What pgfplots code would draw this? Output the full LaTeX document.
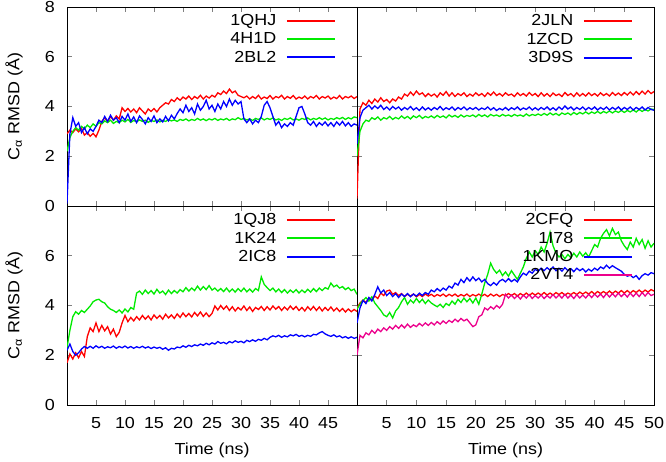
\documentclass[border=0pt]{standalone}
\usepackage{fontspec}
\setmainfont{Liberation Sans}[FakeStretch=1.12]
\usepackage{pgfplots}
\usepackage{pgfplotstable}
\pgfplotsset{compat=1.18}
\newcommand{\fs}{\fontsize{16bp}{18bp}\selectfont}
\definecolor{gr}{RGB}{0,235,0}

\pgfplotstableread{
t r g b
0 2.90 2.20 0.10
0.5 3.05 2.75 2.90
1.0 2.95 3.00 3.55
1.5 3.10 3.15 3.20
2.0 2.98 3.05 3.35
2.5 3.12 3.20 2.95
3.0 2.85 3.10 3.15
3.5 2.95 3.25 2.90
4.0 2.80 3.15 3.10
4.5 2.92 3.30 3.00
5.0 2.78 3.20 3.20
5.5 3.05 3.35 3.45
6.0 3.40 3.30 3.35
6.5 3.55 3.42 3.60
7.0 3.38 3.35 3.40
7.5 3.60 3.45 3.65
8.0 3.45 3.32 3.45
8.5 3.62 3.40 3.55
9.0 3.50 3.35 3.35
9.5 3.95 3.45 3.60
10.0 3.80 3.38 3.45
10.5 3.92 3.48 3.70
11.0 3.78 3.36 3.40
11.5 3.90 3.44 3.58
12.0 3.75 3.38 3.35
12.5 3.95 3.46 3.62
13.0 3.82 3.40 3.48
13.5 3.70 3.45 3.30
14.0 3.90 3.36 3.55
14.5 3.80 3.44 3.40
15.0 3.92 3.40 3.62
15.5 3.78 3.46 3.35
16.0 3.95 3.38 3.50
16.5 4.05 3.44 3.38
17.0 4.15 3.40 3.60
17.5 4.10 3.47 3.42
18.0 4.28 3.42 3.65
18.5 4.20 3.46 3.50
19.0 4.35 3.40 3.72
19.5 4.25 3.48 3.90
20.0 4.38 3.44 3.75
20.5 4.30 3.50 4.05
21.0 4.42 3.42 3.80
21.5 4.28 3.48 3.95
22.0 4.40 3.44 3.70
22.5 4.32 3.52 4.10
23.0 4.45 3.45 3.85
23.5 4.30 3.50 4.00
24.0 4.42 3.43 4.25
24.5 4.34 3.50 3.90
25.0 4.45 3.46 4.05
25.5 4.38 3.52 3.80
26.0 4.55 3.44 4.10
26.5 4.48 3.50 3.90
27.0 4.62 3.46 4.20
27.5 4.52 3.52 4.00
28.0 4.70 3.44 4.30
28.5 4.55 3.50 4.05
29.0 4.62 3.47 4.25
29.5 4.45 3.55 4.10
30.0 4.40 3.48 4.20
30.5 4.35 3.52 3.50
31.0 4.42 3.46 3.35
31.5 4.30 3.50 3.50
32.0 4.40 3.44 3.30
32.5 4.32 3.52 3.45
33.0 4.45 3.48 3.35
33.5 4.30 3.54 3.60
34.0 4.38 3.46 4.05
34.5 4.32 3.52 4.20
35.0 4.44 3.48 3.95
35.5 4.30 3.54 3.60
36.0 4.40 3.46 3.25
36.5 4.35 3.50 3.40
37.0 4.45 3.44 3.15
37.5 4.30 3.52 3.30
38.0 4.40 3.48 3.20
38.5 4.33 3.54 3.35
39.0 4.44 3.46 3.25
39.5 4.30 3.50 3.60
40.0 4.38 3.45 3.95
40.5 4.32 3.52 4.00
41.0 4.42 3.48 3.70
41.5 4.30 3.54 3.35
42.0 4.40 3.46 3.25
42.5 4.34 3.52 3.40
43.0 4.44 3.48 3.20
43.5 4.30 3.55 3.35
44.0 4.40 3.48 3.25
44.5 4.34 3.54 3.38
45.0 4.42 3.46 3.22
45.5 4.30 3.52 3.35
46.0 4.38 3.48 3.20
46.5 4.32 3.55 3.38
47.0 4.44 3.50 3.25
47.5 4.30 3.56 3.40
48.0 4.40 3.48 3.22
48.5 4.35 3.55 3.35
49.0 4.42 3.50 3.20
49.5 4.32 3.58 3.30
50.0 4.40 3.55 3.25
}\tabTL

\pgfplotstableread{
t r g b
0 0.30 2.00 2.50
0.5 3.90 3.00 3.55
1.0 4.15 3.30 3.85
1.5 4.05 3.45 3.95
2.0 4.25 3.40 4.05
2.5 4.12 3.55 3.90
3.0 4.30 3.48 4.02
3.5 4.18 3.58 3.92
4.0 4.35 3.45 4.05
4.5 4.20 3.55 3.88
5.0 4.28 3.50 3.98
5.5 4.15 3.60 3.86
6.0 4.30 3.48 4.00
6.5 4.22 3.56 3.90
7.0 4.38 3.50 3.98
7.5 4.30 3.62 3.85
8.0 4.50 3.52 3.96
8.5 4.42 3.60 3.88
9.0 4.58 3.50 4.00
9.5 4.45 3.62 3.86
10.0 4.62 3.55 3.95
10.5 4.48 3.64 3.84
11.0 4.55 3.52 3.98
11.5 4.40 3.60 3.86
12.0 4.52 3.55 3.95
12.5 4.42 3.62 3.85
13.0 4.50 3.54 3.96
13.5 4.38 3.64 3.88
14.0 4.55 3.56 4.00
14.5 4.45 3.62 3.86
15.0 4.60 3.54 3.95
15.5 4.42 3.66 3.88
16.0 4.55 3.58 3.98
16.5 4.40 3.64 3.85
17.0 4.52 3.56 3.96
17.5 4.44 3.66 3.88
18.0 4.55 3.58 3.98
18.5 4.40 3.64 3.86
19.0 4.50 3.60 3.95
19.5 4.42 3.66 3.88
20.0 4.55 3.58 3.96
20.5 4.44 3.68 3.86
21.0 4.52 3.60 3.94
21.5 4.40 3.66 3.88
22.0 4.55 3.58 3.98
22.5 4.45 3.68 3.86
23.0 4.58 3.62 3.95
23.5 4.44 3.66 3.84
24.0 4.52 3.60 3.92
24.5 4.42 3.68 3.86
25.0 4.55 3.62 3.96
25.5 4.45 3.66 3.85
26.0 4.50 3.60 3.95
26.5 4.40 3.68 3.88
27.0 4.55 3.62 3.98
27.5 4.44 3.66 3.86
28.0 4.52 3.60 3.94
28.5 4.42 3.70 3.88
29.0 4.56 3.62 3.98
29.5 4.44 3.68 3.86
30.0 4.52 3.64 3.95
30.5 4.40 3.70 3.86
31.0 4.55 3.64 3.96
31.5 4.42 3.72 3.88
32.0 4.52 3.65 3.98
32.5 4.40 3.74 3.86
33.0 4.54 3.66 3.95
33.5 4.44 3.72 3.85
34.0 4.50 3.64 3.98
34.5 4.40 3.74 3.88
35.0 4.56 3.68 4.02
35.5 4.44 3.74 3.90
36.0 4.52 3.66 3.98
36.5 4.40 3.76 3.86
37.0 4.55 3.68 3.96
37.5 4.42 3.76 3.88
38.0 4.52 3.70 3.98
38.5 4.42 3.78 3.86
39.0 4.55 3.70 3.96
39.5 4.44 3.78 3.88
40.0 4.52 3.72 3.98
40.5 4.42 3.80 3.86
41.0 4.55 3.72 3.96
41.5 4.44 3.80 3.88
42.0 4.52 3.74 3.98
42.5 4.42 3.82 3.86
43.0 4.56 3.74 3.96
43.5 4.45 3.82 3.88
44.0 4.54 3.76 3.98
44.5 4.44 3.84 3.86
45.0 4.56 3.76 3.96
45.5 4.46 3.84 3.88
46.0 4.58 3.78 3.98
46.5 4.46 3.86 3.86
47.0 4.60 3.78 3.96
47.5 4.48 3.88 3.88
48.0 4.62 3.80 3.98
48.5 4.50 3.88 3.86
49.0 4.64 3.82 3.96
49.5 4.52 3.90 3.88
50.0 4.60 3.88 3.85
}\tabTR

\pgfplotstableread{
t r g b
0 1.70 2.30 2.20
0.5 2.05 3.00 2.45
1.0 1.85 3.55 2.15
1.5 2.10 3.75 2.00
2.0 1.90 3.65 2.10
2.5 2.15 3.80 2.25
3.0 1.95 3.72 2.35
3.5 2.75 3.85 2.28
4.0 3.10 3.98 2.36
4.5 2.95 4.15 2.28
5.0 3.30 4.22 2.38
5.5 2.95 4.25 2.30
6.0 3.20 4.15 2.36
6.5 2.98 4.10 2.28
7.0 3.15 3.95 2.34
7.5 2.85 3.85 2.30
8.0 3.05 3.80 2.37
8.5 2.75 3.72 2.28
9.0 2.92 3.82 2.35
9.5 3.30 3.70 2.30
10.0 3.60 3.86 2.37
10.5 3.35 3.74 2.29
11.0 3.52 3.92 2.35
11.5 3.38 3.85 2.28
12.0 3.55 4.50 2.34
12.5 3.42 4.58 2.30
13.0 3.60 4.45 2.36
13.5 3.45 4.62 2.29
14.0 3.58 4.48 2.34
14.5 3.42 4.60 2.27
15.0 3.62 4.46 2.33
15.5 3.48 4.65 2.28
16.0 3.60 4.50 2.32
16.5 3.45 4.58 2.24
17.0 3.65 4.44 2.30
17.5 3.50 4.62 2.20
18.0 3.62 4.48 2.28
18.5 3.48 4.60 2.25
19.0 3.66 4.50 2.33
19.5 3.52 4.64 2.30
20.0 3.70 4.55 2.38
20.5 3.55 4.72 2.32
21.0 3.68 4.58 2.40
21.5 3.54 4.70 2.35
22.0 3.72 4.60 2.42
22.5 3.58 4.78 2.38
23.0 3.74 4.62 2.45
23.5 3.56 4.76 2.40
24.0 3.70 4.64 2.48
24.5 3.55 4.80 2.42
25.0 3.68 4.62 2.50
25.5 3.98 4.70 2.45
26.0 3.82 4.58 2.55
26.5 4.00 4.68 2.48
27.0 3.85 4.56 2.52
27.5 3.98 4.70 2.46
28.0 3.80 4.55 2.55
28.5 3.95 4.66 2.50
29.0 3.78 4.54 2.58
29.5 3.92 4.68 2.52
30.0 3.82 4.56 2.56
30.5 3.98 4.70 2.50
31.0 3.80 4.55 2.60
31.5 3.94 4.66 2.55
32.0 3.76 4.54 2.62
32.5 3.92 4.68 2.56
33.0 3.84 4.60 2.64
33.5 3.96 5.15 2.60
34.0 3.80 4.85 2.68
34.5 3.95 4.72 2.62
35.0 3.82 4.60 2.72
35.5 3.98 4.70 2.78
36.0 3.85 4.55 2.74
36.5 3.96 4.66 2.80
37.0 3.80 4.52 2.72
37.5 3.94 4.64 2.78
38.0 3.82 4.50 2.74
38.5 3.98 4.62 2.82
39.0 3.84 4.52 2.78
39.5 3.96 4.64 2.84
40.0 3.80 4.50 2.76
40.5 3.92 4.62 2.80
41.0 3.78 4.52 2.74
41.5 3.95 4.65 2.80
42.0 3.82 4.54 2.76
42.5 3.96 4.68 2.84
43.0 3.80 4.56 2.82
43.5 3.94 4.70 2.90
44.0 3.78 4.60 2.95
44.5 3.92 4.72 2.86
45.0 3.80 4.66 2.80
45.5 3.94 4.90 2.76
46.0 3.78 4.75 2.82
46.5 3.90 4.82 2.74
47.0 3.76 4.70 2.78
47.5 3.88 4.76 2.70
48.0 3.74 4.64 2.75
48.5 3.86 4.72 2.68
49.0 3.75 4.60 2.74
49.5 3.84 4.66 2.68
50.0 3.76 4.45 2.72
}\tabBL

\pgfplotstableread{
t r g b m
0 3.90 3.85 3.30 2.00
0.5 4.10 4.05 3.90 2.80
1.0 4.22 4.20 4.20 2.70
1.5 4.12 4.32 4.08 2.90
2.0 4.30 4.18 4.32 2.82
2.5 4.22 4.35 4.18 3.00
3.0 4.38 4.10 4.45 2.88
3.5 4.28 3.95 4.75 3.05
4.0 4.50 3.80 4.50 2.95
4.5 4.40 3.62 4.62 3.10
5.0 4.58 3.55 4.40 3.00
5.5 4.62 3.72 4.52 3.15
6.0 4.45 3.50 4.36 3.05
6.5 4.52 3.78 4.48 3.20
7.0 4.40 3.92 4.32 3.08
7.5 4.48 4.15 4.46 3.22
8.0 4.36 4.32 4.36 3.10
8.5 4.45 4.05 4.48 3.25
9.0 4.38 4.22 4.35 3.12
9.5 4.46 4.10 4.46 3.22
10.0 4.35 4.28 4.38 3.15
10.5 4.44 4.12 4.50 3.28
11.0 4.36 4.25 4.40 3.18
11.5 4.46 4.08 4.52 3.30
12.0 4.38 4.22 4.45 3.20
12.5 4.45 4.10 4.62 3.32
13.0 4.36 4.02 4.55 3.22
13.5 4.44 3.95 4.68 3.35
14.0 4.38 4.05 4.58 3.25
14.5 4.46 3.92 4.70 3.38
15.0 4.36 4.08 4.62 3.28
15.5 4.45 4.00 4.78 3.40
16.0 4.38 4.18 4.70 3.32
16.5 4.46 4.05 4.90 3.45
17.0 4.36 4.25 4.82 3.35
17.5 4.44 4.12 5.05 3.48
18.0 4.38 4.30 4.92 3.38
18.5 4.46 4.15 5.12 3.45
19.0 4.36 4.28 4.98 3.30
19.5 4.44 4.10 5.15 3.15
20.0 4.38 4.30 5.00 3.22
20.5 4.46 4.05 5.10 3.55
21.0 4.38 4.45 4.95 3.62
21.5 4.45 4.90 5.05 3.90
22.0 4.36 5.25 4.88 3.82
22.5 4.46 5.70 4.80 3.95
23.0 4.38 5.45 4.92 3.86
23.5 4.45 5.30 4.82 4.00
24.0 4.36 5.42 4.98 3.90
24.5 4.44 5.20 5.05 4.05
25.0 4.40 5.35 4.95 4.45
25.5 4.48 5.18 5.08 4.30
26.0 4.40 5.40 4.96 4.42
26.5 4.48 5.22 5.05 4.28
27.0 4.38 5.05 4.95 4.40
27.5 4.48 5.30 5.15 4.26
28.0 4.40 5.55 5.30 4.42
28.5 4.50 5.90 5.22 4.30
29.0 4.40 6.15 5.38 4.44
29.5 4.50 5.95 5.30 4.28
30.0 4.42 6.20 5.45 4.40
30.5 4.50 6.05 5.38 4.30
31.0 4.42 6.35 5.50 4.42
31.5 4.52 6.15 5.40 4.28
32.0 4.42 6.50 5.52 4.40
32.5 4.50 6.95 5.42 4.30
33.0 4.42 6.40 5.55 4.44
33.5 4.52 6.10 5.40 4.30
34.0 4.44 5.95 5.50 4.42
34.5 4.52 6.05 5.38 4.30
35.0 4.42 5.88 5.52 4.45
35.5 4.50 6.05 5.40 4.30
36.0 4.44 5.92 5.48 4.42
36.5 4.52 6.10 5.36 4.28
37.0 4.44 5.95 5.50 4.44
37.5 4.54 6.15 5.40 4.30
38.0 4.46 5.98 5.48 4.42
38.5 4.54 6.12 5.35 4.30
39.0 4.46 5.95 5.46 4.45
39.5 4.56 6.20 5.38 4.32
40.0 4.46 6.45 5.50 4.46
40.5 4.56 6.35 5.42 4.34
41.0 4.48 6.70 5.55 4.46
41.5 4.56 6.90 5.48 4.32
42.0 4.48 7.05 5.62 4.48
42.5 4.58 6.80 5.50 4.34
43.0 4.48 7.10 5.60 4.48
43.5 4.58 6.85 5.52 4.35
44.0 4.50 6.95 5.45 4.50
44.5 4.60 6.60 5.38 4.36
45.0 4.50 6.40 5.25 4.48
45.5 4.60 6.25 5.18 4.34
46.0 4.50 6.55 5.22 4.50
46.5 4.60 6.35 5.12 4.36
47.0 4.52 6.70 5.20 4.50
47.5 4.62 6.45 5.05 4.36
48.0 4.52 6.65 5.20 4.52
48.5 4.62 6.30 5.28 4.38
49.0 4.54 6.60 5.22 4.52
49.5 4.64 6.35 5.32 4.40
50.0 4.58 6.50 5.28 4.45
}\tabBR

\pgfplotsset{
  panel/.style={
    scale only axis, anchor=south west,
    xmin=0, xmax=50, ymin=0, ymax=8,
    xtick={0,5,...,50}, ytick={0,2,...,8},
    major tick length=5bp, tick align=inside,
    axis line style={line width=0.9bp},
    tick style={line width=0.7bp},
    /pgf/number format/assume math mode=true,
    tick label style={font=\fs},
    xticklabel style={anchor=base, yshift=-24bp},
    yticklabel style={anchor=east, inner sep=0pt, xshift=-12bp},
    every axis y label/.style={at={(axis description cs:0,0.5)}, xshift=-53bp, rotate=90, anchor=center, font=\fs},
    every axis x label/.style={at={(axis description cs:0.5,0)}, yshift=-45bp, anchor=center, font=\fs},
    legend style={draw=none, fill=none, at={(1,1)}, anchor=north east,
      xshift=-21bp, yshift=-6bp, font=\fs, inner sep=0pt, row sep=2.6bp,
      nodes={inner sep=1.5bp},
      /tikz/every odd column/.append style={column sep=8bp}},
    legend cell align=right, legend plot pos=right,
    every axis plot/.append style={no markers, line width=1.3bp},
  },
}

\begin{document}
\begin{tikzpicture}[x=1bp,y=1bp]
\useasboundingbox (0,0) rectangle (666,462);
% top left
\begin{axis}[panel, at={(67bp,256bp)}, width=290bp, height=199bp,
  legend image code/.code={\draw[#1, line width=2bp] (0bp,0bp) -- (48bp,0bp);},
  xticklabels={}, yticklabels={0,2,4,6,8},
  ylabel={C\textsubscript{α} RMSD (Å)}]
\addplot[red] table[x=t,y=r]{\tabTL};
\addlegendentry{1QHJ}
\addplot[gr] table[x=t,y=g]{\tabTL};
\addlegendentry{4H1D}
\addplot[blue] table[x=t,y=b]{\tabTL};
\addlegendentry{2BL2}
\end{axis}
% top right
\begin{axis}[panel, at={(357bp,256bp)}, width=297bp, height=199bp,
  legend image code/.code={\draw[#1, line width=2bp] (0bp,0bp) -- (48bp,0bp);},
  xticklabels={}, yticklabels={}]
\addplot[red] table[x=t,y=r]{\tabTR};
\addlegendentry{2JLN}
\addplot[gr] table[x=t,y=g]{\tabTR};
\addlegendentry{1ZCD}
\addplot[blue] table[x=t,y=b]{\tabTR};
\addlegendentry{3D9S}
\end{axis}
% bottom left
\begin{axis}[panel, at={(67bp,57bp)}, width=290bp, height=199bp,
  legend image code/.code={\draw[#1, line width=2bp] (0bp,0bp) -- (48bp,0bp);},
  xticklabels={,5,10,15,20,25,30,35,40,45,}, yticklabels={0,2,4,6,},
  ylabel={C\textsubscript{α} RMSD (Å)}, xlabel={Time (ns)}]
\addplot[red] table[x=t,y=r]{\tabBL};
\addlegendentry{1QJ8}
\addplot[gr] table[x=t,y=g]{\tabBL};
\addlegendentry{1K24}
\addplot[blue] table[x=t,y=b]{\tabBL};
\addlegendentry{2IC8}
\end{axis}
% bottom right
\begin{axis}[panel, at={(357bp,57bp)}, width=297bp, height=199bp,
  legend image code/.code={\draw[#1, line width=2bp] (0bp,0bp) -- (48bp,0bp);},
  xticklabels={,5,10,15,20,25,30,35,40,45,50}, yticklabels={},
  xlabel={Time (ns)}]
\addplot[red] table[x=t,y=r]{\tabBR};
\addlegendentry{2CFQ}
\addplot[gr] table[x=t,y=g]{\tabBR};
\addlegendentry{1I78}
\addplot[blue] table[x=t,y=b]{\tabBR};
\addlegendentry{1KMO}
\addplot[magenta] table[x=t,y=m]{\tabBR};
\addlegendentry{2VT4}
\end{axis}
\end{tikzpicture}
\end{document}
